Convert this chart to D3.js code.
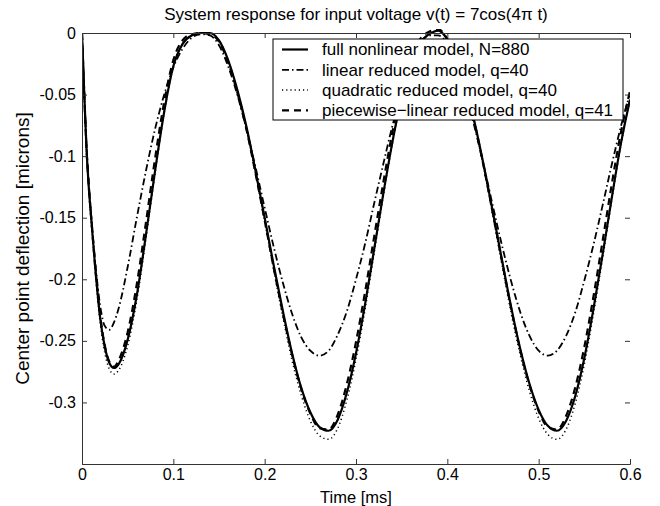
<!DOCTYPE html>
<html>
<head>
<meta charset="utf-8">
<script src="https://cdn.jsdelivr.net/npm/d3@7"></script>
<style>
  body { margin: 0; background: #fff; }
  text { font-family: "Liberation Sans", Arial, sans-serif; fill: #000; }
</style>
</head>
<body>
<div id="chart"></div>
<script>
// time samples [ms]
var times = [0, 0.0025, 0.005, 0.0075, 0.01, 0.015, 0.02, 0.025, 0.03, 0.035, 0.04,
  0.05, 0.06, 0.07, 0.08, 0.09, 0.10, 0.11, 0.12, 0.13, 0.14, 0.15, 0.16, 0.17, 0.18, 0.19,
  0.20, 0.21, 0.22, 0.23, 0.24, 0.25, 0.26, 0.27, 0.28, 0.29, 0.30, 0.31, 0.32, 0.33, 0.34,
  0.35, 0.36, 0.37, 0.38, 0.39, 0.40, 0.41, 0.42, 0.43, 0.44, 0.45, 0.46, 0.47, 0.48, 0.49,
  0.50, 0.51, 0.52, 0.53, 0.54, 0.55, 0.56, 0.57, 0.58, 0.59, 0.60];

// center point deflection [microns]
var fullModel = [0, -0.05, -0.095, -0.126, -0.150, -0.195, -0.232, -0.255, -0.268, -0.272, -0.269,
  -0.249, -0.213, -0.164, -0.112, -0.064, -0.027, -0.009, -0.002, 0, 0, -0.006, -0.022, -0.046, -0.076, -0.112,
  -0.150, -0.189, -0.226, -0.260, -0.288, -0.308, -0.320, -0.323, -0.314, -0.292, -0.260, -0.220, -0.175, -0.130, -0.088,
  -0.052, -0.025, -0.008, -0.001, 0.002, -0.005, -0.020, -0.043, -0.073, -0.108, -0.146, -0.185, -0.223, -0.257, -0.285,
  -0.306, -0.319, -0.323, -0.315, -0.295, -0.264, -0.224, -0.180, -0.134, -0.090, -0.054];

var linearModel = [0, -0.048, -0.092, -0.123, -0.147, -0.190, -0.222, -0.238, -0.241, -0.235, -0.224,
  -0.190, -0.150, -0.112, -0.078, -0.050, -0.028, -0.013, -0.004, -0.001, -0.002, -0.010, -0.027, -0.050, -0.078, -0.109,
  -0.142, -0.174, -0.203, -0.228, -0.247, -0.258, -0.262, -0.258, -0.245, -0.226, -0.200, -0.171, -0.138, -0.106, -0.075,
  -0.048, -0.025, -0.009, -0.002, -0.002, -0.009, -0.026, -0.049, -0.077, -0.108, -0.141, -0.173, -0.202, -0.227, -0.246,
  -0.258, -0.262, -0.258, -0.246, -0.227, -0.201, -0.172, -0.140, -0.107, -0.076, -0.049];

var quadraticModel = [0, -0.05, -0.096, -0.128, -0.152, -0.198, -0.236, -0.260, -0.273, -0.277, -0.274,
  -0.254, -0.217, -0.167, -0.114, -0.065, -0.027, -0.009, -0.002, 0, 0, -0.006, -0.022, -0.047, -0.078, -0.114,
  -0.153, -0.193, -0.231, -0.266, -0.294, -0.315, -0.327, -0.330, -0.321, -0.298, -0.265, -0.224, -0.178, -0.132, -0.089,
  -0.053, -0.025, -0.008, -0.001, 0.002, -0.005, -0.020, -0.044, -0.074, -0.110, -0.149, -0.189, -0.228, -0.262, -0.291,
  -0.313, -0.326, -0.330, -0.322, -0.301, -0.269, -0.228, -0.183, -0.136, -0.091, -0.054];

var pwlModel = [0, -0.05, -0.094, -0.125, -0.149, -0.194, -0.230, -0.254, -0.267, -0.271, -0.266,
  -0.243, -0.204, -0.154, -0.102, -0.056, -0.022, -0.006, -0.001, 0, -0.001, -0.007, -0.024, -0.048, -0.078, -0.114,
  -0.152, -0.191, -0.228, -0.261, -0.289, -0.309, -0.321, -0.322, -0.310, -0.285, -0.251, -0.210, -0.165, -0.121, -0.080,
  -0.045, -0.019, -0.005, 0.001, 0.003, -0.005, -0.021, -0.044, -0.074, -0.109, -0.147, -0.186, -0.224, -0.258, -0.286,
  -0.307, -0.320, -0.322, -0.311, -0.288, -0.255, -0.214, -0.169, -0.123, -0.081, -0.047];

var legendLabels = ["full nonlinear model, N=880", "linear reduced model, q=40",
  "quadratic reduced model, q=40", "piecewise\u2212linear reduced model, q=41"];
var xTicks = [0, 0.1, 0.2, 0.3, 0.4, 0.5, 0.6];
var yTicks = [0, -0.05, -0.1, -0.15, -0.2, -0.25, -0.3];

var svgWidth = 660, svgHeight = 506;
var margin = {top: 33, right: 30, bottom: 42, left: 82};
var width = svgWidth - margin.left - margin.right;
var height = svgHeight - margin.top - margin.bottom;

var svg = d3.select("#chart").append("svg")
  .attr("width", svgWidth)
  .attr("height", svgHeight);

var chartGroup = svg.append("g")
  .attr("transform", `translate(${margin.left}, ${margin.top})`);

var xScale = d3.scaleLinear().domain([0, 0.6]).range([0, width]);
var yScale = d3.scaleLinear().domain([-0.35, 0]).range([height, 0]);

// curves (matlab style line specs)
var series = [
  {values: fullModel, dash: null, w: 2.2},
  {values: linearModel, dash: "7,3,1.5,3", w: 1.8},
  {values: quadraticModel, dash: "1.2,3", w: 1.5},
  {values: pwlModel, dash: "7,5", w: 2.2}
];

var line = d3.line()
  .x((d, i) => xScale(times[i]))
  .y(d => yScale(d))
  .curve(d3.curveMonotoneX);

chartGroup.append("defs").append("clipPath").attr("id", "clip")
  .append("rect").attr("x", 0).attr("y", -4).attr("width", width).attr("height", height + 4);

series.forEach(s => {
  chartGroup.append("path")
    .datum(s.values)
    .attr("d", line)
    .attr("fill", "none")
    .attr("stroke", "#000")
    .attr("stroke-width", s.w)
    .attr("stroke-dasharray", s.dash)
    .attr("clip-path", "url(#clip)");
});

// axes box with inward ticks
var bottomAxis = d3.axisBottom(xScale).tickValues(xTicks).tickSize(-5).tickPadding(5)
  .tickFormat(d => d3.format("")(d));
var leftAxis = d3.axisLeft(yScale).tickValues(yTicks).tickSize(-5).tickPadding(6)
  .tickFormat(d => d === 0 ? "0" : String(d).replace("\u2212", "-"));
var topAxis = d3.axisTop(xScale).tickValues(xTicks).tickSize(-5).tickFormat("");
var rightAxis = d3.axisRight(yScale).tickValues(yTicks).tickSize(-5).tickFormat("");

chartGroup.append("g").attr("class", "axis")
  .attr("transform", `translate(0, ${height})`).call(bottomAxis);
chartGroup.append("g").attr("class", "axis").call(leftAxis);
chartGroup.append("g").attr("class", "axis").call(topAxis);
chartGroup.append("g").attr("class", "axis")
  .attr("transform", `translate(${width}, 0)`).call(rightAxis);

svg.selectAll(".axis .domain").attr("stroke", "#333");
svg.selectAll(".axis line").attr("stroke", "#333");
svg.selectAll(".axis text").style("font-size", "16px").attr("fill", "#000");
// right border is barely visible in the picture
chartGroup.selectAll(".axis").filter((d, i) => i === 3).select(".domain").attr("stroke", "none");

// legend
var legend = chartGroup.append("g")
  .attr("transform", `translate(${273 - margin.left}, ${39 - margin.top})`);
legend.append("rect")
  .attr("width", 350).attr("height", 81)
  .attr("fill", "#fff").attr("stroke", "#000").attr("stroke-width", 1);

legendLabels.forEach((lab, i) => {
  var y = 10.5 + i * 20.3;
  legend.append("line")
    .attr("x1", 9).attr("x2", 35).attr("y1", y).attr("y2", y)
    .attr("stroke", "#000")
    .attr("stroke-width", series[i].w)
    .attr("stroke-dasharray", series[i].dash);
  legend.append("text")
    .attr("x", 49).attr("y", y).attr("dy", "0.35em")
    .style("font-size", "17px")
    .text(lab);
});

// titles
svg.append("text")
  .attr("x", margin.left + width / 2).attr("y", 20)
  .attr("text-anchor", "middle").style("font-size", "17px")
  .text("System response for input voltage v(t) = 7cos(4\u03c0 t)");

svg.append("text")
  .attr("x", margin.left + width / 2).attr("y", 503)
  .attr("text-anchor", "middle").style("font-size", "16.5px")
  .text("Time [ms]");

svg.append("text")
  .attr("transform", `translate(29, ${margin.top + height / 2}) rotate(-90)`)
  .attr("text-anchor", "middle").style("font-size", "19px")
  .text("Center point deflection [microns]");
</script>
</body>
</html>
